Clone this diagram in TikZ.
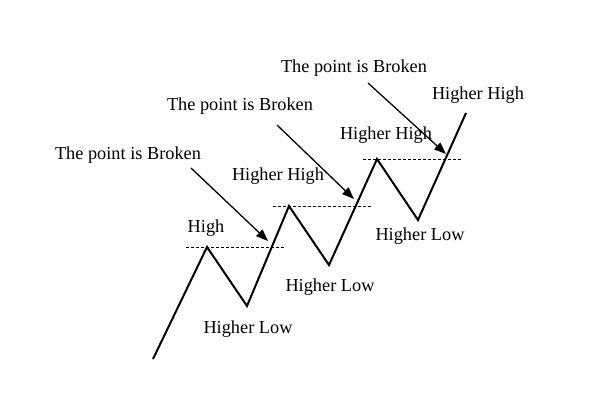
\documentclass[tikz,border=0pt]{standalone}
\usepackage{fontspec}
\setmainfont{Liberation Serif}
\usetikzlibrary{arrows.meta}
\begin{document}
\begin{tikzpicture}[x=1pt,y=-1pt,
  lbl/.style={font=\fontsize{18.3}{20}\selectfont, inner sep=0pt},
  zig/.style={line width=2pt, line join=miter},
  lvl/.style={line width=0.8pt, dash pattern=on 3pt off 2pt},
  brk/.style={line width=1.3pt, -{Triangle[length=12pt,width=9pt]}}]
\useasboundingbox (0,0) rectangle (600,400);
% zigzag points
\coordinate (s)  at (153,359);
\coordinate (p1) at (207,247);
\coordinate (t1) at (247,306);
\coordinate (p2) at (289,206);
\coordinate (t2) at (329,265);
\coordinate (p3) at (377,159);
\coordinate (t3) at (418,220);
\coordinate (e)  at (466,113);
\draw[zig] (s) -- (p1) -- (t1) -- (p2) -- (t2) -- (p3) -- (t3) -- (e);
% level lines
\coordinate (l1a) at (186,247); \coordinate (l1b) at (285,247);
\coordinate (l2a) at (273,206); \coordinate (l2b) at (372,206);
\coordinate (l3a) at (363,159); \coordinate (l3b) at (462,159);
\draw[lvl] (l1a) -- (l1b);
\draw[lvl] (l2a) -- (l2b);
\draw[lvl] (l3a) -- (l3b);
% labels
\node[lbl] (b1) at (128,155) {The point is Broken};
\node[lbl] (b2) at (240,106) {The point is Broken};
\node[lbl] (b3) at (354,68) {The point is Broken};
\node[lbl] (h0) at (206,228) {High};
\node[lbl] (h1) at (278,176) {Higher High};
\node[lbl] (h2) at (386,135) {Higher High};
\node[lbl] (h3) at (478,95) {Higher High};
\node[lbl] (lo1) at (248,329) {Higher Low};
\node[lbl] (lo2) at (330,287) {Higher Low};
\node[lbl] (lo3) at (420,236) {Higher Low};
% arrows
\coordinate (a1s) at (191,168); \coordinate (a1e) at (268,241);
\coordinate (a2s) at (277,125); \coordinate (a2e) at (354,199);
\coordinate (a3s) at (368,83);  \coordinate (a3e) at (446,154);
\draw[brk] (a1s) -- (a1e);
\draw[brk] (a2s) -- (a2e);
\draw[brk] (a3s) -- (a3e);
\end{tikzpicture}
\end{document}
